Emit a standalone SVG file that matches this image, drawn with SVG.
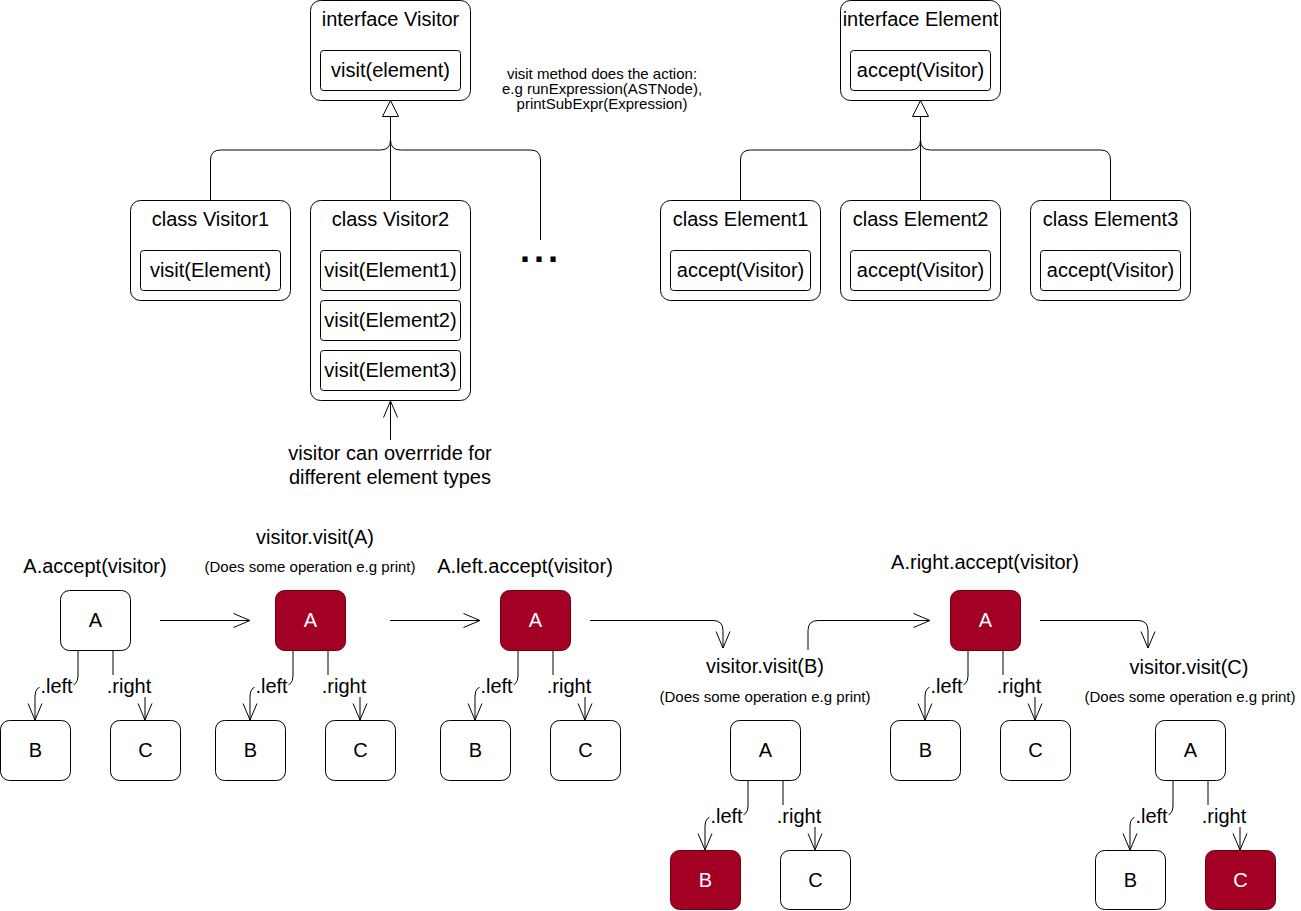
<svg xmlns="http://www.w3.org/2000/svg" width="1301" height="911" viewBox="0 0 1301 911">
  <defs>
    <style>
      text { font-family: "Liberation Sans", Arial, Helvetica, sans-serif; fill: #000; }
      .t20 { font-size: 20px; text-anchor: middle; }
      .t15 { font-size: 15px; text-anchor: middle; }
      .tw { fill: #fff; }
      .box { fill: #fff; stroke: #000; stroke-width: 1; }
      .red { fill: #a20025; stroke: #6f0000; stroke-width: 1; }
      .ln { fill: none; stroke: #000; stroke-width: 1; }
      .arr { fill: none; stroke: #000; stroke-width: 1; marker-end: url(#open); }
      .bg { fill: #fff; stroke: none; }
      .dots { font-size: 36px; font-weight: bold; letter-spacing: 4px; text-anchor: middle; }
    </style>
    <marker id="open" markerUnits="userSpaceOnUse" markerWidth="20" markerHeight="18" refX="17" refY="8" orient="auto">
      <path d="M0.5,1 L17,8 L0.5,15" fill="none" stroke="#000" stroke-width="1"/>
    </marker>
  </defs>

  <!-- Visitor hierarchy -->
  <g id="interface-visitor">
    <rect class="box" x="310.5" y="0.5" width="160" height="100" rx="10"/>
    <text class="t20" x="390.5" y="26">interface Visitor</text>
    <rect class="box" x="320.5" y="50.5" width="140" height="40" rx="3"/>
    <text class="t20" x="390.5" y="77">visit(element)</text>
  </g>
  <g id="class-visitor1">
    <rect class="box" x="130.5" y="200.5" width="160" height="100" rx="10"/>
    <text class="t20" x="210.5" y="226">class Visitor1</text>
    <rect class="box" x="140.5" y="250.5" width="140" height="40" rx="3"/>
    <text class="t20" x="210.5" y="277">visit(Element)</text>
  </g>
  <g id="class-visitor2">
    <rect class="box" x="310.5" y="200.5" width="160" height="200" rx="10"/>
    <text class="t20" x="390.5" y="226">class Visitor2</text>
    <rect class="box" x="320.5" y="250.5" width="140" height="40" rx="3"/>
    <text class="t20" x="390.5" y="277">visit(Element1)</text>
    <rect class="box" x="320.5" y="300.5" width="140" height="40" rx="3"/>
    <text class="t20" x="390.5" y="327">visit(Element2)</text>
    <rect class="box" x="320.5" y="350.5" width="140" height="40" rx="3"/>
    <text class="t20" x="390.5" y="377">visit(Element3)</text>
  </g>
  <g id="more-visitors">
    <text class="dots" x="541" y="262">...</text>
  </g>
  <g id="note-visit">
    <text class="t15" x="602" y="79">visit method does the action:</text>
    <text class="t15" x="602" y="94">e.g runExpression(ASTNode),</text>
    <text class="t15" x="602" y="109">printSubExpr(Expression)</text>
  </g>
  <g id="note-override">
    <text class="t20" x="390" y="460">visitor can overrride for</text>
    <text class="t20" x="390" y="484">different element types</text>
  </g>

  <!-- Element hierarchy -->
  <g id="interface-element">
    <rect class="box" x="840.5" y="0.5" width="160" height="100" rx="10"/>
    <text class="t20" x="920.5" y="26">interface Element</text>
    <rect class="box" x="850.5" y="50.5" width="140" height="40" rx="3"/>
    <text class="t20" x="920.5" y="77">accept(Visitor)</text>
  </g>
  <g id="class-element1">
    <rect class="box" x="660.5" y="200.5" width="160" height="100" rx="10"/>
    <text class="t20" x="740.5" y="226">class Element1</text>
    <rect class="box" x="670.5" y="250.5" width="140" height="40" rx="3"/>
    <text class="t20" x="740.5" y="277">accept(Visitor)</text>
  </g>
  <g id="class-element2">
    <rect class="box" x="840.5" y="200.5" width="160" height="100" rx="10"/>
    <text class="t20" x="920.5" y="226">class Element2</text>
    <rect class="box" x="850.5" y="250.5" width="140" height="40" rx="3"/>
    <text class="t20" x="920.5" y="277">accept(Visitor)</text>
  </g>
  <g id="class-element3">
    <rect class="box" x="1030.5" y="200.5" width="160" height="100" rx="10"/>
    <text class="t20" x="1110.5" y="226">class Element3</text>
    <rect class="box" x="1040.5" y="250.5" width="140" height="40" rx="3"/>
    <text class="t20" x="1110.5" y="277">accept(Visitor)</text>
  </g>

  <!-- Traversal steps: captions -->
  <g id="step-captions">
    <text class="t20" x="95" y="573">A.accept(visitor)</text>
    <text class="t20" x="315" y="544">visitor.visit(A)</text>
    <text class="t15" x="310" y="572">(Does some operation e.g print)</text>
    <text class="t20" x="525" y="573">A.left.accept(visitor)</text>
    <text class="t20" x="765" y="673">visitor.visit(B)</text>
    <text class="t15" x="765" y="702">(Does some operation e.g print)</text>
    <text class="t20" x="985" y="569">A.right.accept(visitor)</text>
    <text class="t20" x="1189" y="674">visitor.visit(C)</text>
    <text class="t15" x="1190" y="702">(Does some operation e.g print)</text>
  </g>

  <!-- Connectors -->
  <g id="connectors">
    <!-- generalisation: visitors -->
    <path class="ln" d="M210.5,200 V160 Q210.5,150 220.5,150 H380.5 Q390.5,150 390.5,140 V116.5"/>
    <path class="ln" d="M390.5,200 V116.5"/>
    <path class="ln" d="M540.5,240 V160 Q540.5,150 530.5,150 H400.5 Q390.5,150 390.5,140 V116.5"/>
    <path class="box" d="M390.5,100.5 L382.5,116.5 L398.5,116.5 Z"/>
    <!-- generalisation: elements -->
    <path class="ln" d="M740.5,200 V160 Q740.5,150 750.5,150 H910.5 Q920.5,150 920.5,140 V116.5"/>
    <path class="ln" d="M920.5,200 V116.5"/>
    <path class="ln" d="M1110.5,200 V160 Q1110.5,150 1100.5,150 H930.5 Q920.5,150 920.5,140 V116.5"/>
    <path class="box" d="M920.5,100.5 L912.5,116.5 L928.5,116.5 Z"/>
    <!-- override note -->
    <path class="arr" d="M390.5,440 V401"/>
    <!-- step flow -->
    <path class="arr" d="M160,620.5 H250"/>
    <path class="arr" d="M390,620.5 H480"/>
    <path class="arr" d="M590,620.5 H713 Q723,620.5 723,630.5 V648"/>
    <path class="arr" d="M808,650 V630.5 Q808,620.5 818,620.5 H930"/>
    <path class="arr" d="M1040,620.5 H1138 Q1148,620.5 1148,630.5 V648"/>

    <!-- tree edges (ax = A.x, ay = A.y) -->
    <!-- tree 1: A(60,590) -->
    <path class="arr" d="M78,650 V676 Q78,686 68,686 H45 Q35,686 35,696 V720"/>
    <path class="arr" d="M113,650 V676 Q113,686 123,686 H135 Q145,686 145,696 V720"/>
    <!-- tree 2: A(275,590) -->
    <path class="arr" d="M293,650 V676 Q293,686 283,686 H260 Q250,686 250,696 V720"/>
    <path class="arr" d="M328,650 V676 Q328,686 338,686 H350 Q360,686 360,696 V720"/>
    <!-- tree 3: A(500,590) -->
    <path class="arr" d="M518,650 V676 Q518,686 508,686 H485 Q475,686 475,696 V720"/>
    <path class="arr" d="M553,650 V676 Q553,686 563,686 H575 Q585,686 585,696 V720"/>
    <!-- tree 4: A(730,720) -->
    <path class="arr" d="M748,780 V806 Q748,816 738,816 H715 Q705,816 705,826 V850"/>
    <path class="arr" d="M783,780 V806 Q783,816 793,816 H805 Q815,816 815,826 V850"/>
    <!-- tree 5: A(950,590) -->
    <path class="arr" d="M968,650 V676 Q968,686 958,686 H935 Q925,686 925,696 V720"/>
    <path class="arr" d="M1003,650 V676 Q1003,686 1013,686 H1025 Q1035,686 1035,696 V720"/>
    <!-- tree 6: A(1155,720) -->
    <path class="arr" d="M1173,780 V806 Q1173,816 1163,816 H1140 Q1130,816 1130,826 V850"/>
    <path class="arr" d="M1208,780 V806 Q1208,816 1218,816 H1230 Q1240,816 1240,826 V850"/>

    <!-- edge labels -->
    <rect class="bg" x="39.5" y="675" width="34" height="22"/><text class="t20" x="56.5" y="693">.left</text>
    <rect class="bg" x="106" y="675" width="46" height="22"/><text class="t20" x="129" y="693">.right</text>
    <rect class="bg" x="254.5" y="675" width="34" height="22"/><text class="t20" x="271.5" y="693">.left</text>
    <rect class="bg" x="321" y="675" width="46" height="22"/><text class="t20" x="344" y="693">.right</text>
    <rect class="bg" x="479.5" y="675" width="34" height="22"/><text class="t20" x="496.5" y="693">.left</text>
    <rect class="bg" x="546" y="675" width="46" height="22"/><text class="t20" x="569" y="693">.right</text>
    <rect class="bg" x="709.5" y="805" width="34" height="22"/><text class="t20" x="726.5" y="823">.left</text>
    <rect class="bg" x="776" y="805" width="46" height="22"/><text class="t20" x="799" y="823">.right</text>
    <rect class="bg" x="929.5" y="675" width="34" height="22"/><text class="t20" x="946.5" y="693">.left</text>
    <rect class="bg" x="996" y="675" width="46" height="22"/><text class="t20" x="1019" y="693">.right</text>
    <rect class="bg" x="1134.5" y="805" width="34" height="22"/><text class="t20" x="1151.5" y="823">.left</text>
    <rect class="bg" x="1201" y="805" width="46" height="22"/><text class="t20" x="1224" y="823">.right</text>
  </g>

  <!-- Tree nodes -->
  <g id="t1-a"><rect class="box" x="60.5" y="590.5" width="70" height="60" rx="9"/><text class="t20" x="95.5" y="627">A</text></g>
  <g id="t1-b"><rect class="box" x="0.5" y="720.5" width="70" height="60" rx="9"/><text class="t20" x="35.5" y="757">B</text></g>
  <g id="t1-c"><rect class="box" x="110.5" y="720.5" width="70" height="60" rx="9"/><text class="t20" x="145.5" y="757">C</text></g>

  <g id="t2-a"><rect class="red" x="275.5" y="590.5" width="70" height="60" rx="9"/><text class="t20 tw" x="310.5" y="627">A</text></g>
  <g id="t2-b"><rect class="box" x="215.5" y="720.5" width="70" height="60" rx="9"/><text class="t20" x="250.5" y="757">B</text></g>
  <g id="t2-c"><rect class="box" x="325.5" y="720.5" width="70" height="60" rx="9"/><text class="t20" x="360.5" y="757">C</text></g>

  <g id="t3-a"><rect class="red" x="500.5" y="590.5" width="70" height="60" rx="9"/><text class="t20 tw" x="535.5" y="627">A</text></g>
  <g id="t3-b"><rect class="box" x="440.5" y="720.5" width="70" height="60" rx="9"/><text class="t20" x="475.5" y="757">B</text></g>
  <g id="t3-c"><rect class="box" x="550.5" y="720.5" width="70" height="60" rx="9"/><text class="t20" x="585.5" y="757">C</text></g>

  <g id="t4-a"><rect class="box" x="730.5" y="720.5" width="70" height="60" rx="9"/><text class="t20" x="765.5" y="757">A</text></g>
  <g id="t4-b"><rect class="red" x="670.5" y="850.5" width="70" height="59" rx="9"/><text class="t20 tw" x="705.5" y="887">B</text></g>
  <g id="t4-c"><rect class="box" x="780.5" y="850.5" width="70" height="59" rx="9"/><text class="t20" x="815.5" y="887">C</text></g>

  <g id="t5-a"><rect class="red" x="950.5" y="590.5" width="70" height="60" rx="9"/><text class="t20 tw" x="985.5" y="627">A</text></g>
  <g id="t5-b"><rect class="box" x="890.5" y="720.5" width="70" height="60" rx="9"/><text class="t20" x="925.5" y="757">B</text></g>
  <g id="t5-c"><rect class="box" x="1000.5" y="720.5" width="70" height="60" rx="9"/><text class="t20" x="1035.5" y="757">C</text></g>

  <g id="t6-a"><rect class="box" x="1155.5" y="720.5" width="70" height="60" rx="9"/><text class="t20" x="1190.5" y="757">A</text></g>
  <g id="t6-b"><rect class="box" x="1095.5" y="850.5" width="70" height="59" rx="9"/><text class="t20" x="1130.5" y="887">B</text></g>
  <g id="t6-c"><rect class="red" x="1205.5" y="850.5" width="70" height="59" rx="9"/><text class="t20 tw" x="1240.5" y="887">C</text></g>
</svg>
